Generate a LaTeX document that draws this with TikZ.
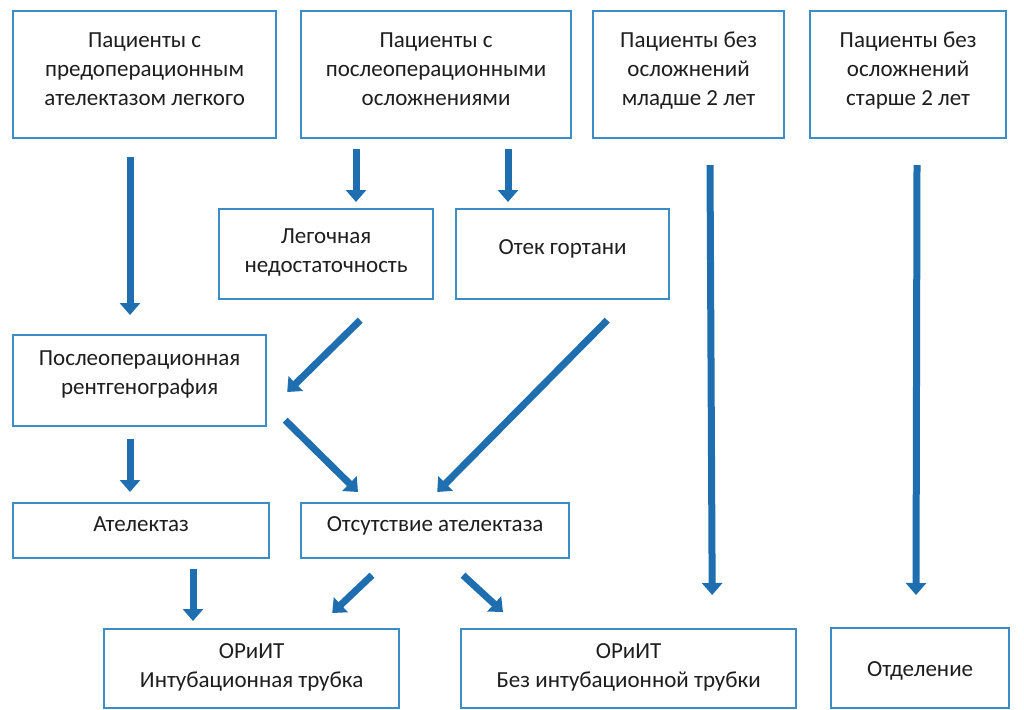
\documentclass[tikz,border=0pt]{standalone}
\usepackage{fontspec}
\setmainfont{Carlito}
\usetikzlibrary{arrows.meta,calc}
\definecolor{boxc}{HTML}{3C8CC6}
\definecolor{arrc}{HTML}{1E6EB0}
\definecolor{txtc}{HTML}{1E1E1E}
\begin{document}
\begin{tikzpicture}[x=1pt,y=-1pt,
  box/.style={draw=boxc,line width=2.2pt,align=center,text=txtc,
    font=\fontsize{23}{29}\selectfont,inner sep=0pt,anchor=north west},
  arr/.style={draw=arrc,line width=7pt,-{Triangle[width=20pt,length=12pt]}}]
\useasboundingbox[fill=white] (0,0) rectangle (1024,709);
% boxes
\node[box,minimum width=263pt,text height=94pt,text depth=33pt] (b1) at (12,10)
  {Пациенты с\\предоперационным\\ателектазом легкого};
\node[box,minimum width=270pt,text height=94pt,text depth=33pt] (b2) at (300,10)
  {Пациенты с\\послеоперационными\\осложнениями};
\node[box,minimum width=191pt,text height=94pt,text depth=33pt] (b3) at (592,10)
  {Пациенты без\\осложнений\\младше 2 лет};
\node[box,minimum width=196pt,text height=94pt,text depth=33pt] (b4) at (809,10)
  {Пациенты без\\осложнений\\старше 2 лет};
\node[box,minimum width=214pt,text height=63pt,text depth=27pt] (b5) at (218,208)
  {Легочная\\недостаточность};
\node[box,minimum width=213pt,text height=45pt,text depth=45pt] (b6) at (455,208)
  {Отек гортани};
\node[box,minimum width=253pt,text height=59pt,text depth=32pt] (b7) at (12,334)
  {Послеоперационная\\рентгенография};
\node[box,minimum width=256pt,text height=28pt,text depth=27pt] (b8) at (12,502)
  {Ателектаз};
\node[box,minimum width=268pt,text height=28pt,text depth=27pt] (b9) at (300,502)
  {Отсутствие ателектаза};
\node[box,minimum width=295pt,text height=58pt,text depth=21pt] (b10) at (103,628)
  {ОРиИТ\\Интубационная трубка};
\node[box,minimum width=335pt,text height=58pt,text depth=21pt] (b11) at (460,628)
  {ОРиИТ\\Без интубационной трубки};
\node[box,minimum width=178pt,text height=48pt,text depth=32pt] (b12) at (830,627)
  {Отделение};
% arrows
\draw[arr] ($(b1.south west)+(118,18)$) -- ($(b7.north west)+(118,-19)$);
\draw[arr] ($(b2.south west)+(56,10)$) -- ($(b5.north west)+(138,-6)$);
\draw[arr] ($(b2.south west)+(208,10)$) -- ($(b6.north west)+(53,-6)$);
\draw[arr] ($(b3.south west)+(118,26)$) -- ($(b11.north east)+(-85,-33)$);
\draw[arr] ($(b4.south west)+(108,26)$) -- ($(b12.north west)+(86,-32)$);
\draw[arr] ($(b5.south east)+(-74,20)$) -- ($(b7.north east)+(20,58)$);
\draw[arr] ($(b7.south east)+(18,-7)$) -- ($(b9.north west)+(58,-10)$);
\draw[arr] ($(b6.south east)+(-63,20)$) -- ($(b9.north east)+(-133,-10)$);
\draw[arr] ($(b7.south west)+(118,12)$) -- ($(b8.north west)+(118,-10)$);
\draw[arr] ($(b8.south west)+(181,10)$) -- ($(b10.north west)+(90,-7)$);
\draw[arr] ($(b9.south west)+(72,16)$) -- ($(b10.north east)+(-68,-15)$);
\draw[arr] ($(b9.south west)+(163,16)$) -- ($(b11.north west)+(43,-16)$);
\end{tikzpicture}
\end{document}
